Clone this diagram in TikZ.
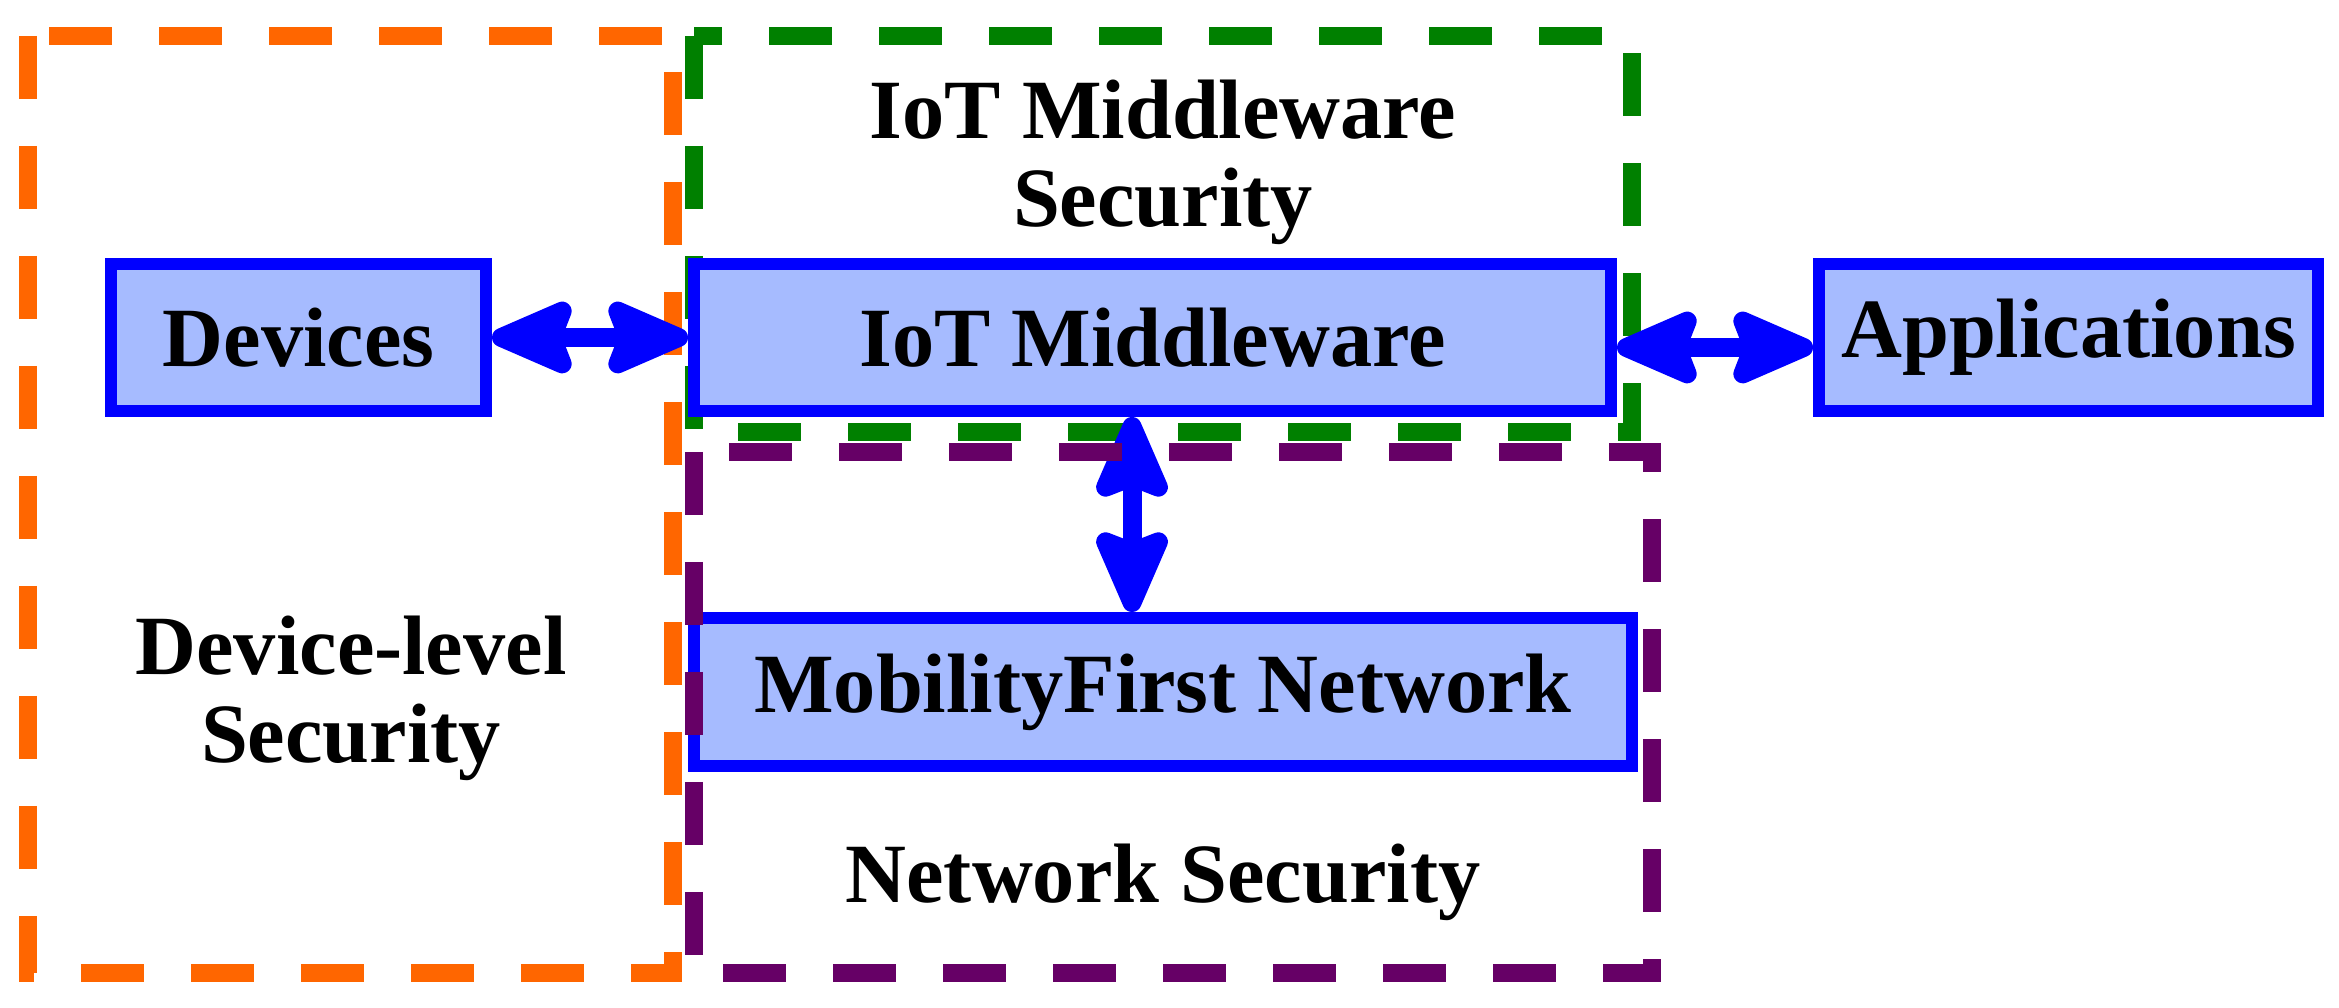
\documentclass[tikz,border=0pt]{standalone}
\usepackage{fontspec}
\setmainfont{Liberation Serif}
\usetikzlibrary{arrows.meta}

\definecolor{zoneorange}{RGB}{255,102,0}
\definecolor{zonegreen}{RGB}{0,128,0}
\definecolor{zonepurple}{RGB}{102,0,102}
\definecolor{boxfill}{RGB}{166,187,255}

\tikzset{
  zone/.style={line width=0.175cm, dash pattern=on 0.63cm off 0.47cm},
  block/.style={draw=blue, fill=boxfill, line width=0.12cm, inner sep=0pt,
    minimum height=1.47cm, font=\bfseries\fontsize{24}{25}\selectfont},
  label/.style={align=center, font=\bfseries\fontsize{24}{25}\selectfont},
  dbl/.style={blue, line width=0.19cm,
    {Stealth[length=1.0cm, width=0.84cm, inset=0.15cm, round]}-{Stealth[length=1.0cm, width=0.84cm, inset=0.15cm, round]}}
}

\begin{document}
\begin{tikzpicture}
    \useasboundingbox (0,0) rectangle (23.39,10.08);
    % Security zones
    \draw[zone, zonegreen] (6.94,9.72) rectangle (16.32,5.76);
    \draw[zone, zoneorange] (0.28,9.72) rectangle (6.73,0.35);
    % Blocks
    \node[block, minimum width=3.75cm] (dev) at (2.985,6.705) {Devices};
    \node[block, minimum width=9.17cm] (mw) at (11.525,6.705) {IoT Middleware};
    \node[block, minimum width=4.99cm] (app) at (20.685,6.705) {Applications};
    \node[block, minimum width=9.38cm, minimum height=1.48cm] (mf) at (11.63,3.16) {MobilityFirst Network};
    % Arrows
    \draw[dbl] (dev.east) -- (mw.west);
    \draw[dbl] ([yshift=-0.1cm]mw.east) -- ([yshift=-0.1cm]app.west);
    \draw[dbl] ([xshift=-0.205cm]mw.south) -- ([xshift=-0.205cm]mw.south |- mf.north);
    \draw[zone, zonepurple] (6.94,5.56) rectangle (16.52,0.35);
    % Zone labels
    \node[label] (mwsec) at (11.63,8.46) {IoT Middleware\\Security};
    \node[label] (devsec) at (3.51,3.1) {Device-level\\Security};
    \node[label] (netsec) at (11.63,1.26) {Network Security};
\end{tikzpicture}
\end{document}
